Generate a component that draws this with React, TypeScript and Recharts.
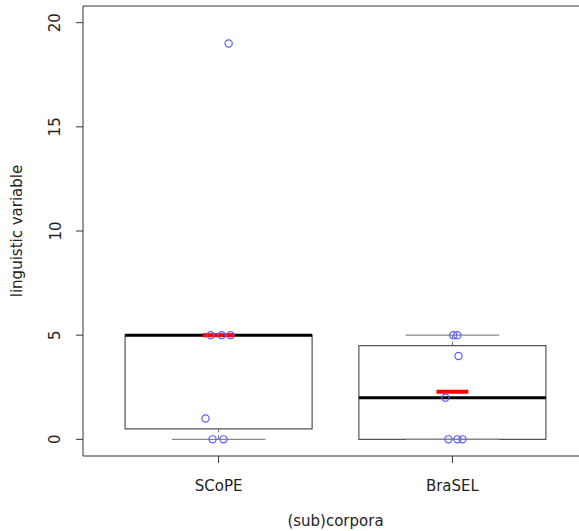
import React from 'react';
import { ComposedChart, Scatter, XAxis, YAxis, ReferenceArea, ReferenceLine } from 'recharts';

const categories = ['SCoPE', 'BraSEL'];
const positions = [1, 2];
const scopeValues = [19, 5, 5, 5, 1, 0, 0];
const scopeJitterX = [1.043, 0.966, 1.013, 1.051, 0.944, 0.974, 1.021];
const braselValues = [5, 5, 4, 2, 0, 0, 0];
const braselJitterX = [2.004, 2.021, 2.026, 1.97, 1.983, 2.021, 2.043];
const lowerHinge = [0.5, 0];
const medians = [5, 2];
const upperHinge = [5, 4.5];
const lowerWhisker = [0, 0];
const upperWhisker = [5, 5];
const means = [5, 2.29];
const yTicks = [0, 5, 10, 15, 20];

const scopeData = scopeValues.map((v, i) => ({ x: scopeJitterX[i], y: v }));
const braselData = braselValues.map((v, i) => ({ x: braselJitterX[i], y: v }));

const FONT = "'DejaVu Sans', sans-serif";
const TEXT = '#222';
const BOX_HALF = 0.4;
const STAPLE_HALF = 0.2;
const MEAN_HALF = 0.068;

const Dot = (p: any) => (
  <circle cx={p.cx} cy={p.cy} r={3.6} fill="none" stroke="#5b5bff" strokeWidth={1.2} />
);

const YTick = (p: any) => {
  const cx = 60.5;
  return (
    <text x={cx} y={p.y} transform={`rotate(-90 ${cx} ${p.y})`} textAnchor="middle" fontFamily={FONT} fontSize={15} fill={TEXT}>
      {p.payload.value}
    </text>
  );
};

const XTick = (p: any) => {
  const idx = positions.indexOf(p.payload.value);
  return (
    <text x={p.x} y={p.y + 27.5} textAnchor="middle" fontFamily={FONT} fontSize={15} fill={TEXT}>
      {idx >= 0 ? categories[idx] : ''}
    </text>
  );
};

export default function App() {
  return (
    <div style={{ position: 'fixed', left: 0, top: 0, width: 579, height: 531, overflow: 'hidden', background: '#fff' }}>
      <ComposedChart width={600} height={531} margin={{ top: 6, right: 12, bottom: 0, left: 0 }}>
        <XAxis
          type="number"
          dataKey="x"
          domain={[0.42, 2.58]}
          allowDataOverflow
          ticks={positions}
          tickSize={7}
          tickMargin={0}
          tickLine={{ stroke: '#333' }}
          axisLine={false}
          height={75}
          tick={<XTick />}
          label={{
            content: (lp: any) => {
              const vb = lp.viewBox;
              return (
                <text x={vb.x + vb.width / 2} y={vb.y + 70} textAnchor="middle" fontFamily={FONT} fontSize={15} fill={TEXT}>
                  (sub)corpora
                </text>
              );
            },
          }}
        />
        <YAxis
          type="number"
          dataKey="y"
          domain={[-0.8, 20.8]}
          allowDataOverflow
          ticks={yTicks}
          tickSize={7}
          tickMargin={0}
          tickLine={{ stroke: '#333' }}
          axisLine={false}
          width={83}
          tick={<YTick />}
          label={{
            content: (lp: any) => {
              const vb = lp.viewBox;
              const cy = vb.y + vb.height / 2;
              return (
                <text x={22} y={cy} transform={`rotate(-90 22 ${cy})`} textAnchor="middle" fontFamily={FONT} fontSize={15} fill={TEXT}>
                  linguistic variable
                </text>
              );
            },
          }}
        />
        <ReferenceArea x1={0.42} x2={2.58} y1={-0.8} y2={20.8} fill="none" fillOpacity={0} stroke="#333" strokeWidth={1} ifOverflow="visible" />
        {positions.map((pos, i) => (
          <ReferenceLine key={`wl${i}`} segment={[{ x: pos, y: lowerWhisker[i] }, { x: pos, y: lowerHinge[i] }]} stroke="#666" strokeDasharray="4 3" ifOverflow="visible" />
        ))}
        {positions.map((pos, i) => (
          <ReferenceLine key={`wu${i}`} segment={[{ x: pos, y: upperHinge[i] }, { x: pos, y: upperWhisker[i] }]} stroke="#666" strokeDasharray="4 3" ifOverflow="visible" />
        ))}
        {positions.map((pos, i) => (
          <ReferenceLine key={`sl${i}`} segment={[{ x: pos - STAPLE_HALF, y: lowerWhisker[i] }, { x: pos + STAPLE_HALF, y: lowerWhisker[i] }]} stroke="#888" strokeWidth={1.2} ifOverflow="visible" />
        ))}
        {positions.map((pos, i) => (
          <ReferenceLine key={`su${i}`} segment={[{ x: pos - STAPLE_HALF, y: upperWhisker[i] }, { x: pos + STAPLE_HALF, y: upperWhisker[i] }]} stroke="#888" strokeWidth={1.2} ifOverflow="visible" />
        ))}
        {positions.map((pos, i) => (
          <ReferenceArea key={`box${i}`} x1={pos - BOX_HALF} x2={pos + BOX_HALF} y1={lowerHinge[i]} y2={upperHinge[i]} fill="none" fillOpacity={0} stroke="#555" strokeWidth={1.2} ifOverflow="visible" />
        ))}
        {positions.map((pos, i) => (
          <ReferenceLine key={`med${i}`} segment={[{ x: pos - BOX_HALF, y: medians[i] }, { x: pos + BOX_HALF, y: medians[i] }]} stroke="#000" strokeWidth={3} ifOverflow="visible" />
        ))}
        {positions.map((pos, i) => (
          <ReferenceLine key={`mean${i}`} segment={[{ x: pos - MEAN_HALF, y: means[i] }, { x: pos + MEAN_HALF, y: means[i] }]} stroke="#ff0000" strokeWidth={4} ifOverflow="visible" />
        ))}
        <Scatter data={scopeData} shape={<Dot />} isAnimationActive={false} />
        <Scatter data={braselData} shape={<Dot />} isAnimationActive={false} />
      </ComposedChart>
    </div>
  );
}
